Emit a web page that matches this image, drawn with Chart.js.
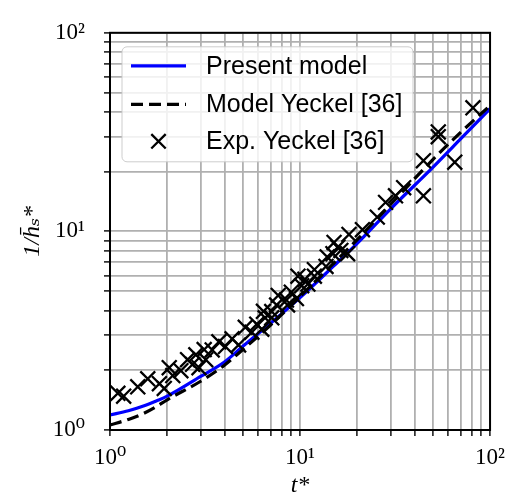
<!DOCTYPE html>
<html>
<head>
<meta charset="utf-8">
<script src="https://cdn.jsdelivr.net/npm/chart.js@4.4.0/dist/chart.umd.min.js"></script>
<style>
    html, body { margin: 0; padding: 0; background: #ffffff; }
</style>
</head>
<body>
<canvas id="graficaYeckel" width="513" height="501"></canvas>
<script>
// Ticks (log axes, both 10^0 .. 10^2):
const tickValues = [1, 2, 3, 4, 5, 6, 7, 8, 9, 10, 20, 30, 40, 50, 60, 70, 80, 90, 100];
const majorTicks = [1, 10, 100];
const majorLabels = ["10\u2070", "10\u00b9", "10\u00b2"];

// Model curves:
const modelT = [1, 1.25, 1.5, 1.75, 2, 3, 4, 5, 7, 10, 15, 20, 30, 50, 70, 100];
const presentModel = [1.19, 1.25, 1.32, 1.40, 1.48, 1.86, 2.2, 2.64, 3.45, 4.64, 6.68, 8.7, 13.0, 21.0, 29.2, 41.5];
const yeckelModel = [1.06, 1.13, 1.21, 1.31, 1.42, 1.76, 2.12, 2.54, 3.38, 4.7, 6.9, 9.1, 13.7, 23.0, 31.5, 43.0];

// Experimental points Yeckel:
const expT = [1.10, 1.18, 1.40, 1.58, 1.82, 1.93, 2.05, 2.14, 2.36, 2.56, 2.72, 2.83, 2.94, 3.13, 3.19,
    3.45, 3.74, 4.05, 4.39, 4.75, 5.15, 5.58, 5.92, 6.29, 6.42, 6.55, 7.1, 7.1, 7.53, 7.68,
    8.48, 8.6, 9.0, 9.57, 9.75, 10.2, 10.6, 11.0, 11.9, 11.9, 13.7, 13.9, 14.9, 15.1, 15.8,
    16.4, 17.8, 18.1, 21.3, 25.5, 28.2, 31.8, 35.1, 44.6, 44.6, 53.4, 53.4, 65.2, 81.3];
const expY = [1.53, 1.48, 1.65, 1.81, 1.71, 1.62, 2.06, 1.88, 1.99, 2.26, 2.14, 2.39, 2.06, 2.54, 2.26,
    2.53, 2.78, 2.63, 2.88, 2.68, 3.29, 3.11, 3.41, 3.22, 3.96, 3.67, 3.95, 3.67, 4.26, 4.76,
    4.51, 4.26, 4.94, 4.59, 5.95, 5.33, 5.74, 5.43, 5.95, 6.42, 6.66, 7.44, 7.72, 8.8, 8.33,
    8.02, 7.72, 9.65, 10.2, 11.8, 14.0, 15.1, 16.6, 22.7, 15.1, 31.7, 30.0, 22.3, 41.9];

const serifFont = "'Liberation Serif', 'DejaVu Serif', serif";
const sansFont = "'Liberation Sans', Arial, sans-serif";

// Build {x, y} points from two arrays:
function toPoints(xs, ys)
{
    const points = [];
    for (let index = 0; index < xs.length; index++)
    {
        points.push({x: xs[index], y: ys[index]});
    }
    return points;
}

// Label only powers of ten:
function majorLabel(value)
{
    const pos = majorTicks.indexOf(value);
    return pos >= 0 ? majorLabels[pos] : "";
}

// Log axis with a fixed tick list:
function logAxis(position, titleText, titlePadding)
{
    return {
        type: "logarithmic",
        position: position,
        min: 1,
        max: 100,
        afterBuildTicks: function (scale)
        {
            scale.ticks = tickValues.map(function (v) { return {value: v}; });
        },
        afterFit: function (scale)
        {
            if (position == "left") scale.width = 110;
            else scale.height = 71;
        },
        border: {display: false},
        grid: {
            color: "#b0b0b0",
            lineWidth: 1.8,
            drawTicks: true,
            tickLength: 6,
            tickColor: "#000000",
            tickWidth: 1.4
        },
        ticks: {
            autoSkip: false,
            maxRotation: 0,
            padding: position == "left" ? 19 : 8,
            color: "#000000",
            font: {family: serifFont, size: 23},
            callback: function (value) { return majorLabel(value); }
        },
        title: {
            display: true,
            text: titleText,
            color: "#000000",
            padding: titlePadding,
            font: {family: serifFont, size: 24, style: "italic"}
        }
    };
}

// Black frame round the plot area:
const framePlugin = {
    id: "framePlugin",
    afterDraw: function (chart)
    {
        const a = chart.chartArea;
        const ctx = chart.ctx;
        ctx.save();
        ctx.strokeStyle = "#000000";
        ctx.lineWidth = 2;
        ctx.strokeRect(a.left, a.top, a.right - a.left, a.bottom - a.top);
        ctx.restore();
    }
};

// Legend box inside the plot (matplotlib style):
const legendPlugin = {
    id: "legendPlugin",
    afterDatasetsDraw: function (chart)
    {
        const a = chart.chartArea;
        const ctx = chart.ctx;
        const left = a.left + 12;
        const top = a.top + 14;
        const width = 291;
        const height = 115;
        const rows = [19, 57.5, 94.5];

        ctx.save();
        ctx.beginPath();
        ctx.roundRect(left, top, width, height, 5);
        ctx.fillStyle = "rgba(255,255,255,0.82)";
        ctx.fill();
        ctx.strokeStyle = "rgba(200,200,200,0.9)";
        ctx.lineWidth = 1;
        ctx.stroke();

        chart.data.datasets.forEach(function (ds, i)
        {
            const y = top + rows[i];
            ctx.strokeStyle = ds.borderColor;
            if (ds.showLine)
            {
                ctx.lineWidth = ds.borderWidth;
                ctx.setLineDash(ds.borderDash || []);
                ctx.beginPath();
                ctx.moveTo(left + 9, y);
                ctx.lineTo(left + 64, y);
                ctx.stroke();
                ctx.setLineDash([]);
            }
            else
            {
                const cx = left + 36.5;
                const r = 7.2;
                ctx.lineWidth = ds.borderWidth;
                ctx.beginPath();
                ctx.moveTo(cx - r, y - r);
                ctx.lineTo(cx + r, y + r);
                ctx.moveTo(cx - r, y + r);
                ctx.lineTo(cx + r, y - r);
                ctx.stroke();
            }
            ctx.fillStyle = "#000000";
            ctx.font = "25px " + sansFont;
            ctx.textBaseline = "middle";
            ctx.fillText(ds.label, left + 84, y + 1);
        });
        ctx.restore();
    }
};

// Draw chart:
function drawChart(canvas)
{
    const ctx = document.getElementById(canvas).getContext("2d");
    return new Chart(ctx,
    {
        type: "scatter",
        data: {
            datasets: [
                {
                    label: "Present model",
                    data: toPoints(modelT, presentModel),
                    showLine: true,
                    borderColor: "#0000ff",
                    borderWidth: 3.2,
                    pointRadius: 0,
                    cubicInterpolationMode: "monotone",
                    order: 2
                },
                {
                    label: "Model Yeckel [36]",
                    data: toPoints(modelT, yeckelModel),
                    showLine: true,
                    borderColor: "#000000",
                    borderWidth: 3.2,
                    borderDash: [12, 6],
                    pointRadius: 0,
                    cubicInterpolationMode: "monotone",
                    order: 1
                },
                {
                    label: "Exp. Yeckel [36]",
                    data: toPoints(expT, expY),
                    showLine: false,
                    borderColor: "#000000",
                    backgroundColor: "#000000",
                    borderWidth: 2.3,
                    pointStyle: "crossRot",
                    pointRadius: 10.5,
                    order: 0
                }
            ]
        },
        options: {
            responsive: false,
            animation: false,
            devicePixelRatio: 1,
            layout: {
                padding: {left: 0, right: 19, top: 17, bottom: 0}
            },
            scales: {
                x: logAxis("bottom", "t*", {top: 0, bottom: 1}),
                y: logAxis("left", "1/h\u0304\u209b*", {top: 18, bottom: 0})
            },
            plugins: {
                legend: {display: false},
                tooltip: {enabled: false}
            }
        },
        plugins: [framePlugin, legendPlugin]
    });
}

drawChart("graficaYeckel");
</script>
</body>
</html>
